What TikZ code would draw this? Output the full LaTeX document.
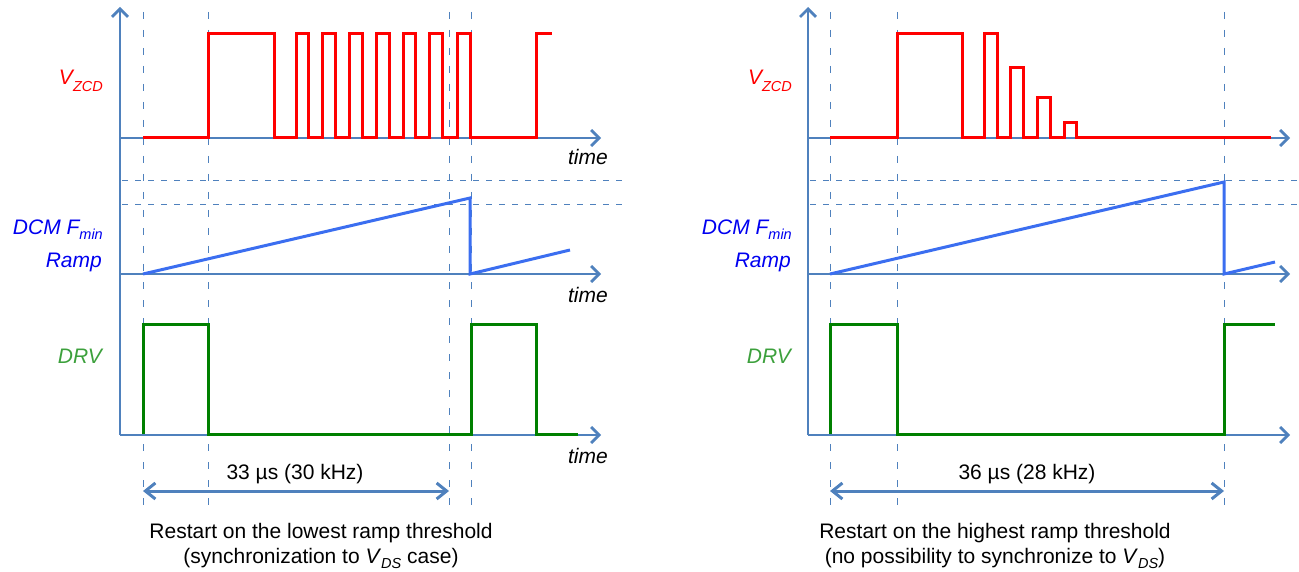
\documentclass[tikz,border=0pt]{standalone}
\usepackage{fontspec}
\setmainfont{Liberation Sans}
\usetikzlibrary{arrows.meta}
\definecolor{axisc}{RGB}{79,129,189}
\definecolor{zcdred}{RGB}{255,0,0}
\definecolor{rampblue}{RGB}{59,110,240}
\definecolor{ramptext}{RGB}{0,0,240}
\definecolor{drvgreen}{RGB}{0,128,0}
\definecolor{drvtext}{RGB}{60,160,60}
\newcommand\mysub[2][-5pt]{\raisebox{#1}{\fontsize{14.5}{14.5}\selectfont #2}}
\tikzset{
  ax/.style={draw=axisc, line width=2.75pt, -{Straight Barb[length=8pt,width=16pt]}},
  vguide/.style={draw=axisc, line width=1pt, dash pattern=on 7pt off 11pt},
  hguide/.style={draw=axisc, line width=1pt, dash pattern=on 6pt off 7pt},
  zcd/.style={draw=zcdred, line width=3pt},
  ramp/.style={draw=rampblue, line width=3pt},
  drv/.style={draw=drvgreen, line width=3pt},
  lbl/.style={anchor=base east, inner sep=0pt, font=\fontsize{21}{25}\selectfont\itshape},
  timelbl/.style={anchor=base east, inner sep=0pt, font=\fontsize{21}{25}\selectfont\itshape},
  meas/.style={draw=axisc, line width=3pt, {Straight Barb[length=10pt,width=16pt]}-{Straight Barb[length=10pt,width=16pt]}},
  txt/.style={anchor=base, inner sep=0pt, font=\fontsize{21}{25}\selectfont},
}
\begin{document}
\begin{tikzpicture}[x=1pt,y=-1pt]
\useasboundingbox (0,0) rectangle (1299,572);

% ---------- LEFT PANEL ----------
\coordinate (Lorg) at (120,435);
\coordinate (Ltop) at (120,7);
\coordinate (La1s) at (120,138); \coordinate (La1e) at (601,138);
\coordinate (La2s) at (120,274); \coordinate (La2e) at (601,274);
\coordinate (La3e) at (601,435);
\draw[ax] (Lorg) -- (Ltop);
\draw[ax] (La1s) -- (La1e);
\draw[ax] (La2s) -- (La2e);
\draw[ax] (Lorg) -- (La3e);

% guides
\foreach \x/\n in {143/a,208/b,449/c,471/d}{
  \coordinate (Lg\n t) at (\x,12); \coordinate (Lg\n b) at (\x,510);
  \draw[vguide] (Lg\n t) -- (Lg\n b);
}
\coordinate (Lh1s) at (122,181); \coordinate (Lh1e) at (628,181);
\coordinate (Lh2s) at (122,205); \coordinate (Lh2e) at (628,205);
\draw[hguide] (Lh1s) -- (Lh1e);
\draw[hguide] (Lh2s) -- (Lh2e);

% waveforms
\draw[zcd] (143,138) -| (208,34) -| (274,138) -| (296,34) -| (308,138) -| (322,34) -| (335,138)
  -| (349,34) -| (362,138) -| (376,34) -| (389,138) -| (403,34) -| (415,138) -| (429,34) -| (442,138)
  -| (457,34) -| (470,138) -| (536,34) -- (552,34);
\draw[ramp] (143,274) -- (470,198) -- (470,274) -- (570,250);
\draw[drv] (143,434) |- (208,324) |- (471,434) |- (536,324) |- (578,434);

% labels
\node[lbl, text=zcdred] (Lvzcd) at (103,85) {V\mysub[-7pt]{ZCD}};
\node[lbl, text=ramptext] (Ldcm) at (103,235) {DCM F\mysub{min}};
\node[lbl, text=ramptext] (Lramp) at (102,268) {Ramp};
\node[lbl, text=drvtext] (Ldrv) at (102,363) {DRV};
\node[timelbl] (Lt1) at (608,165) {time};
\node[timelbl] (Lt2) at (608,302) {time};
\node[timelbl] (Lt3) at (608,463) {time};

% measurement
\draw[meas] (Lgat |- 0,491) -- (Lgct |- 0,491);
\node[txt] (Lmeas) at (295,479) {33 µs (30 kHz)};
\node[txt] (Lcap1) at (321,538) {Restart on the lowest ramp threshold};
\node[txt] (Lcap2) at (321,563) {(synchronization to \textit{V}\mysub{\textit{DS}} case)};

% ---------- RIGHT PANEL ----------
\coordinate (Rorg) at (808,435);
\coordinate (Rtop) at (808,7);
\coordinate (Ra1s) at (808,138); \coordinate (Ra1e) at (1290,138);
\coordinate (Ra2s) at (808,274); \coordinate (Ra2e) at (1290,274);
\coordinate (Ra3e) at (1290,435);
\draw[ax] (Rorg) -- (Rtop);
\draw[ax] (Ra1s) -- (Ra1e);
\draw[ax] (Ra2s) -- (Ra2e);
\draw[ax] (Rorg) -- (Ra3e);

\foreach \x/\n in {830/a,897/b,1224/c}{
  \coordinate (Rg\n t) at (\x,12); \coordinate (Rg\n b) at (\x,510);
  \draw[vguide] (Rg\n t) -- (Rg\n b);
}
\coordinate (Rh1s) at (810,181); \coordinate (Rh1e) at (1299,181);
\coordinate (Rh2s) at (810,205); \coordinate (Rh2e) at (1299,205);
\draw[hguide] (Rh1s) -- (Rh1e);
\draw[hguide] (Rh2s) -- (Rh2e);

\draw[zcd] (830,138) -| (897,34) -| (962,138) -| (984,34) -| (997,138) -| (1010,68) -| (1023,138)
  -| (1037,98) -| (1050,138) -| (1064,123) -| (1076,138) -- (1271,138);
\draw[ramp] (830,274) -- (1224,182) -- (1224,274) -- (1275,262);
\draw[drv] (830,434) |- (897,324) |- (1224,434) |- (1275,324);

\node[lbl, text=zcdred] (Rvzcd) at (792,85) {V\mysub[-7pt]{ZCD}};
\node[lbl, text=ramptext] (Rdcm) at (792,235) {DCM F\mysub{min}};
\node[lbl, text=ramptext] (Rramp) at (791,268) {Ramp};
\node[lbl, text=drvtext] (Rdrv) at (791,363) {DRV};

\draw[meas] (Rgat |- 0,491) -- (Rgct |- 0,491);
\node[txt] (Rmeas) at (1027,479) {36 µs (28 kHz)};
\node[txt] (Rcap1) at (995,538) {Restart on the highest ramp threshold};
\node[txt] (Rcap2) at (995,563) {(no possibility to synchronize to \textit{V}\mysub{\textit{DS}})};
\end{tikzpicture}
\end{document}
